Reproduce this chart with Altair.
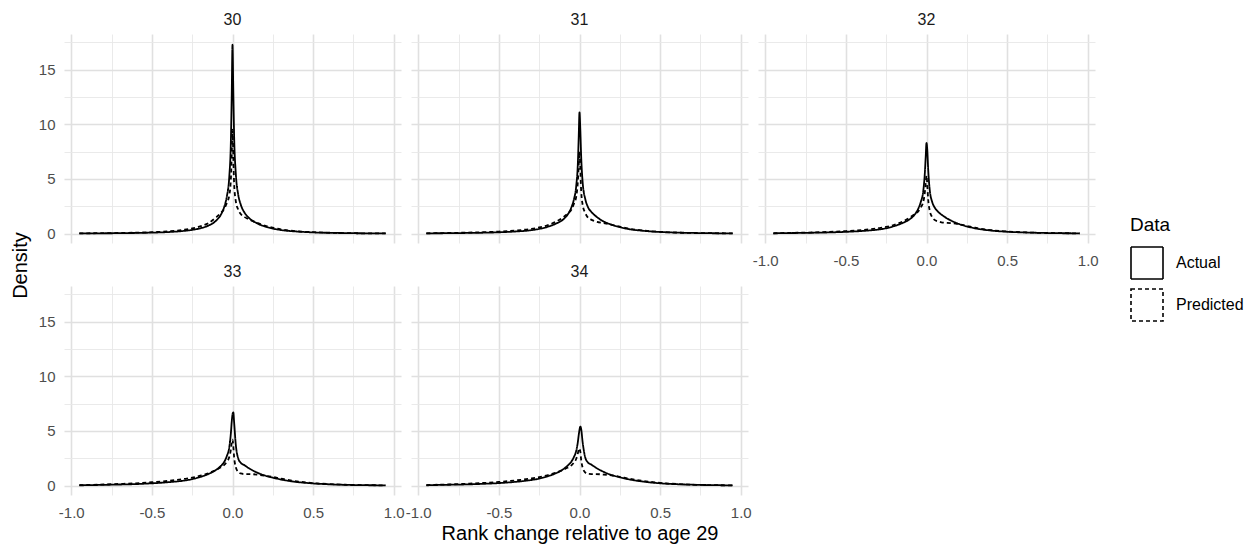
import altair as alt
import pandas as pd

# ---- data ----
x_grid = [-0.95, -0.9, -0.8, -0.7, -0.6, -0.5, -0.4, -0.3, -0.25, -0.2, -0.15, -0.1,
          -0.075, -0.05, -0.035, -0.02, -0.01, -0.005, 0.0, 0.005, 0.01, 0.02, 0.035,
          0.05, 0.075, 0.1, 0.15, 0.2, 0.25, 0.3, 0.4, 0.5, 0.6, 0.7, 0.8, 0.9, 0.95]

ages = ["30", "31", "32", "33", "34"]

actual_30 = [0.01, 0.01, 0.02, 0.03, 0.05, 0.08, 0.13, 0.24, 0.33, 0.48, 0.72, 1.2,
             1.65, 2.5, 3.4, 5.2, 8.5, 12.5, 17.3, 13.0, 9.0, 5.6, 3.6,
             2.7, 1.9, 1.45, 0.95, 0.65, 0.45, 0.32, 0.18, 0.1, 0.06, 0.04, 0.02, 0.01, 0.01]
predicted_30 = [0.01, 0.02, 0.03, 0.05, 0.08, 0.12, 0.2, 0.34, 0.46, 0.65, 0.95, 1.5,
                1.85, 2.3, 2.8, 3.5, 5.0, 7.0, 9.5, 7.0, 4.6, 3.0, 2.2,
                1.8, 1.5, 1.3, 1.0, 0.72, 0.53, 0.38, 0.21, 0.12, 0.07, 0.04, 0.02, 0.01, 0.01]

actual_31 = [0.01, 0.02, 0.03, 0.05, 0.07, 0.11, 0.18, 0.3, 0.42, 0.6, 0.88, 1.3,
             1.7, 2.4, 3.1, 4.4, 6.5, 8.8, 11.1, 9.5, 7.2, 4.6, 3.2,
             2.5, 1.95, 1.6, 1.1, 0.8, 0.58, 0.42, 0.24, 0.14, 0.08, 0.05, 0.03, 0.01, 0.01]
predicted_31 = [0.02, 0.03, 0.05, 0.08, 0.12, 0.18, 0.27, 0.42, 0.55, 0.75, 1.05, 1.5,
                1.8, 2.2, 2.7, 3.4, 4.8, 6.2, 7.5, 6.0, 4.0, 2.6, 1.9,
                1.5, 1.25, 1.1, 0.95, 0.8, 0.62, 0.46, 0.27, 0.15, 0.09, 0.05, 0.03, 0.02, 0.01]

actual_32 = [0.02, 0.03, 0.05, 0.07, 0.1, 0.15, 0.23, 0.36, 0.48, 0.68, 0.95, 1.35,
             1.7, 2.3, 2.9, 3.9, 5.6, 7.0, 8.3, 7.6, 6.0, 4.0, 2.9,
             2.4, 1.95, 1.65, 1.2, 0.88, 0.65, 0.48, 0.27, 0.16, 0.1, 0.06, 0.03, 0.02, 0.01]
predicted_32 = [0.02, 0.04, 0.07, 0.1, 0.15, 0.22, 0.32, 0.48, 0.6, 0.8, 1.08, 1.5,
                1.75, 2.05, 2.4, 2.9, 3.8, 4.6, 5.3, 4.4, 3.2, 2.1, 1.5,
                1.25, 1.1, 1.0, 0.95, 0.85, 0.7, 0.53, 0.31, 0.18, 0.11, 0.06, 0.04, 0.02, 0.01]

actual_33 = [0.02, 0.03, 0.06, 0.09, 0.13, 0.2, 0.3, 0.45, 0.58, 0.78, 1.05, 1.45,
             1.75, 2.2, 2.7, 3.5, 4.8, 5.8, 6.5, 6.7, 5.8, 3.8, 2.5,
             2.1, 1.85, 1.6, 1.2, 0.92, 0.72, 0.55, 0.32, 0.19, 0.11, 0.06, 0.03, 0.02, 0.01]
predicted_33 = [0.03, 0.05, 0.09, 0.14, 0.2, 0.3, 0.42, 0.6, 0.72, 0.9, 1.12, 1.45,
                1.65, 1.9, 2.2, 2.6, 3.3, 3.9, 4.2, 3.6, 2.6, 1.7, 1.25,
                1.1, 1.05, 1.05, 1.0, 0.9, 0.78, 0.62, 0.38, 0.22, 0.13, 0.07, 0.04, 0.02, 0.01]

actual_34 = [0.02, 0.04, 0.07, 0.1, 0.15, 0.22, 0.33, 0.5, 0.63, 0.83, 1.1, 1.5,
             1.8, 2.2, 2.6, 3.2, 4.0, 4.6, 5.1, 5.4, 5.2, 3.9, 2.6,
             2.15, 1.9, 1.65, 1.25, 0.95, 0.75, 0.58, 0.35, 0.2, 0.12, 0.07, 0.04, 0.02, 0.01]
predicted_34 = [0.03, 0.06, 0.1, 0.16, 0.23, 0.33, 0.46, 0.64, 0.76, 0.93, 1.15, 1.45,
                1.62, 1.85, 2.1, 2.45, 2.95, 3.3, 3.4, 3.1, 2.4, 1.6, 1.2,
                1.08, 1.05, 1.05, 1.0, 0.92, 0.8, 0.65, 0.4, 0.24, 0.14, 0.08, 0.04, 0.02, 0.01]

series_names = ["Actual", "Predicted"]
x_ticks = [-1.0, -0.75, -0.5, -0.25, 0.0, 0.25, 0.5, 0.75, 1.0]
y_ticks = [0, 2.5, 5, 7.5, 10, 12.5, 15, 17.5]
x_title = "Rank change relative to age 29"
y_title = "Density"

curves = {
    "30": (actual_30, predicted_30),
    "31": (actual_31, predicted_31),
    "32": (actual_32, predicted_32),
    "33": (actual_33, predicted_33),
    "34": (actual_34, predicted_34),
}

rows = []
for age in ages:
    act, pred = curves[age]
    for name, vals in zip(series_names, (act, pred)):
        for xv, yv in zip(x_grid, vals):
            rows.append({"age": age, "x": xv, "y": yv, "Data": name})
df = pd.DataFrame(rows)

FONT = "Liberation Sans"

x_major = "abs(datum.value * 2 - round(datum.value * 2)) < 0.001"
y_major = "abs(datum.value / 5 - round(datum.value / 5)) < 0.001"
x_label_expr = f"{x_major} ? ((datum.value < -0.001 ? '-' : '') + format(abs(datum.value), '.1f')) : ''"
y_label_expr = f"{y_major} ? datum.label : ''"

grid_w = lambda test: {"condition": {"test": test, "value": 1.6}, "value": 0.9}
grid_c = lambda test: {"condition": {"test": test, "value": "#e0e0e0"}, "value": "#e8e8e8"}

# which panels carry labels, as in the reference's wrapped layout
show_x = {"30": False, "31": False, "32": True, "33": True, "34": True}
show_y = {"30": True, "31": False, "32": False, "33": True, "34": False}


def panel(age):
    sub = df[df["age"] == age]
    if age == "34":  # shared x title, centred under the middle column
        x_kw = dict(title=x_title, titlePadding=3)
    else:
        x_kw = dict(title=None)
    if age == "30":  # shared y title, centred between the two rows (below panel 30)
        y_kw = dict(title=y_title, titleY=231, titlePadding=8)
    else:
        y_kw = dict(title=None)
    x_axis = alt.Axis(values=x_ticks, labelExpr=x_label_expr, labels=show_x[age],
                      gridWidth=grid_w(x_major), gridColor=grid_c(x_major),
                      labelPadding=10, labelFlush=False, labelOverlap=False, **x_kw)
    y_axis = alt.Axis(values=y_ticks, labelExpr=y_label_expr, labels=show_y[age],
                      gridWidth=grid_w(y_major), gridColor=grid_c(y_major),
                      labelPadding=9, labelFlush=False, labelOverlap=False, **y_kw)
    return alt.Chart(sub).mark_line(
        color="black", strokeWidth=1.8, interpolate="monotone"
    ).encode(
        x=alt.X("x:Q", scale=alt.Scale(domain=[-1.045, 1.045], nice=False, zero=False), axis=x_axis),
        y=alt.Y("y:Q", scale=alt.Scale(domain=[-0.87, 18.27], nice=False, zero=False), axis=y_axis),
        strokeDash=alt.StrokeDash(
            "Data:N",
            scale=alt.Scale(domain=series_names, range=[[1, 0], [4, 3]]),
            legend=alt.Legend(
                title="Data", orient="none", legendX=1066, legendY=182,
                symbolType="square", symbolSize=1024, symbolStrokeWidth=1.6,
                symbolStrokeColor="black", symbolFillColor="white",
                labelOffset=12, titlePadding=11,
            ),
        ),
    ).properties(
        width=337, height=209,
        title=alt.TitleParams(age, fontSize=16, color="#1a1a1a", font=FONT,
                              fontWeight="normal", anchor="middle", frame="group", offset=6),
    )


chart = alt.concat(
    *[panel(a) for a in ages],
    columns=3,
    spacing={"row": 43, "column": 10},
    bounds="flush",
).properties(
    padding={"left": 10, "top": 12, "right": 5, "bottom": 5},
).configure_view(
    stroke=None,
).configure_axis(
    labelFont=FONT, labelFontSize=15, labelColor="#4d4d4d",
    titleFont=FONT, titleFontSize=20, titleColor="#000000", titleFontWeight="normal",
    domain=False, ticks=False, gridOpacity=1,
).configure_legend(
    labelFont=FONT, labelFontSize=16, labelColor="#000000",
    titleFont=FONT, titleFontSize=19, titleColor="#000000", titleFontWeight="normal",
)

chart.save("out.html", embed_options={"renderer": "svg", "actions": False})
